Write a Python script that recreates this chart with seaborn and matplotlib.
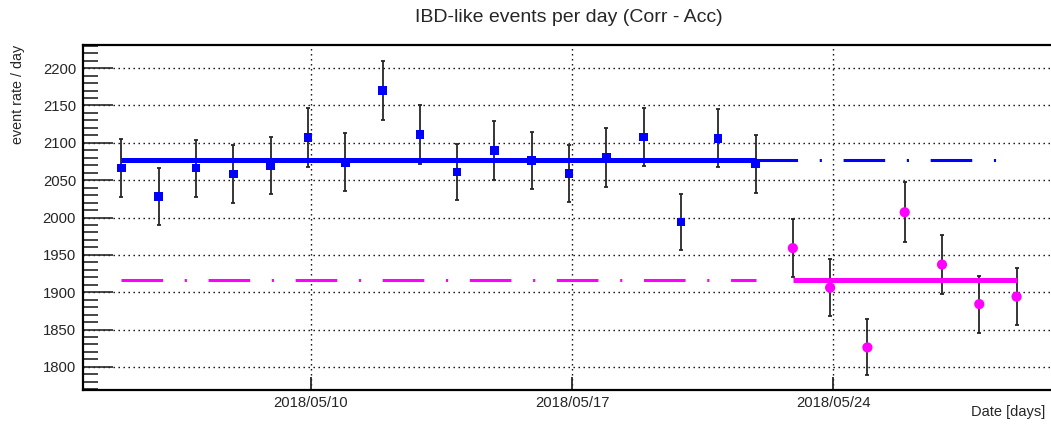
import numpy as np
import pandas as pd
import matplotlib
matplotlib.use("Agg")
import matplotlib.pyplot as plt
import seaborn as sns

# ---------------- data ----------------
start_time = "2018-05-04 22:00"
n_days = 25
blue_vals = [2066, 2028, 2066, 2058, 2070, 2107, 2074, 2170, 2111, 2061,
             2090, 2076, 2059, 2081, 2108, 1994, 2106, 2072]
blue_err = [39, 38, 38, 39, 38, 40, 39, 40, 40, 38, 39.5, 38.5, 38.5, 39.5,
            39, 38, 39, 39]
mag_vals = [1959, 1906, 1826, 2007, 1937, 1884, 1894]
mag_err = [39, 38.5, 37.5, 40, 39, 38, 38.5]
blue_fit = 2077.6
mag_fit = 1916.1
tick_dates = ["2018-05-10", "2018-05-17", "2018-05-24"]
tick_labels = ["2018/05/10", "2018/05/17", "2018/05/24"]
x_range = ["2018-05-03 21:15", "2018-05-29 19:30"]
y_range = [1769, 2231]
title = "IBD-like events per day (Corr - Acc)"
ylabel = "event rate / day"
xlabel = "Date [days]"

dates = pd.date_range(start_time, periods=n_days, freq="D")
nb = len(blue_vals)
df_blue = pd.DataFrame({"date": dates[:nb], "rate": blue_vals, "err": blue_err})
df_mag = pd.DataFrame({"date": dates[nb:], "rate": mag_vals, "err": mag_err})

# ---------------- style ----------------
sns.set_style("white")
plt.rcParams["font.family"] = ["Liberation Sans", "DejaVu Sans"]

W, H = 1051, 426
fig = plt.figure(figsize=(W / 100, H / 100), dpi=100)
ax = fig.add_axes([83 / W, 1 - 390 / H, (1050 - 83) / W, (390 - 45) / H])

BLUE = "#0000ff"
MAG = "#ff00ff"

# grid
ax.grid(True, which="major", color="black", linestyle=(0, (1, 2.6)), linewidth=1.0)
ax.set_axisbelow(True)

# fit lines (extrapolated parts, dash-dot)
dash = (0, (13.6, 7.1, 0.7, 7.1))
ax.plot([dates[0], dates[nb - 1]], [mag_fit, mag_fit], color=MAG, lw=2.2,
        linestyle=dash, solid_capstyle="butt", dash_capstyle="butt", zorder=2)
ax.plot([dates[nb - 1], dates[-1]], [blue_fit, blue_fit], color=BLUE, lw=2.2,
        linestyle=dash, solid_capstyle="butt", dash_capstyle="butt", zorder=2)

# error bars
for d in (df_blue, df_mag):
    ax.errorbar(d["date"], d["rate"], yerr=d["err"], fmt="none", ecolor="#262626",
                elinewidth=1.3, capsize=1.6, capthick=1.3, zorder=3)

# fit lines (fitted ranges, solid)
ax.plot([dates[0], dates[nb - 1]], [blue_fit, blue_fit], color=BLUE, lw=3.6,
        solid_capstyle="butt", zorder=4)
ax.plot([dates[nb], dates[-1]], [mag_fit, mag_fit], color=MAG, lw=3.6,
        solid_capstyle="butt", zorder=4)

sns.scatterplot(data=df_blue, x="date", y="rate", marker="s", s=38, color=BLUE,
                edgecolor="none", linewidth=0, ax=ax, zorder=5)
sns.scatterplot(data=df_mag, x="date", y="rate", marker="o", s=54, color=MAG,
                edgecolor="none", linewidth=0, ax=ax, zorder=5)

# axes ranges & ticks
ax.set_xlim(pd.Timestamp(x_range[0]), pd.Timestamp(x_range[1]))
ax.set_ylim(*y_range)
ax.set_xticks([pd.Timestamp(t) for t in tick_dates])
ax.set_xticklabels(tick_labels)
ax.set_yticks(np.arange(1800, 2201, 50))
ax.set_yticks(np.arange(1770, 2231, 10), minor=True)
ax.tick_params(axis="y", which="major", direction="in", length=21.6, width=1.2,
               labelsize=10.7, pad=5, left=True, right=False)
ax.tick_params(axis="y", which="minor", direction="in", length=10.8, width=1.2,
               left=True, right=False)
ax.tick_params(axis="x", which="major", direction="in", length=9.5, width=1.3,
               labelsize=10.7, pad=4, bottom=True, top=False)
ax.set_xlabel("")
ax.set_ylabel("")

for side in ("left", "bottom", "top"):
    ax.spines[side].set_visible(True)
    ax.spines[side].set_color("black")
    ax.spines[side].set_linewidth(1.6)
ax.spines["right"].set_visible(False)

fig.text(569 / W, 1 - 17 / H, title, ha="center", va="center", fontsize=14)
fig.text(18 / W, 1 - 45 / H, ylabel, ha="center", va="top", rotation=90, fontsize=10.3)
fig.text(1045 / W, 1 - 412 / H, xlabel, ha="right", va="center", fontsize=10.5)

fig.savefig("out.png", dpi=100)
